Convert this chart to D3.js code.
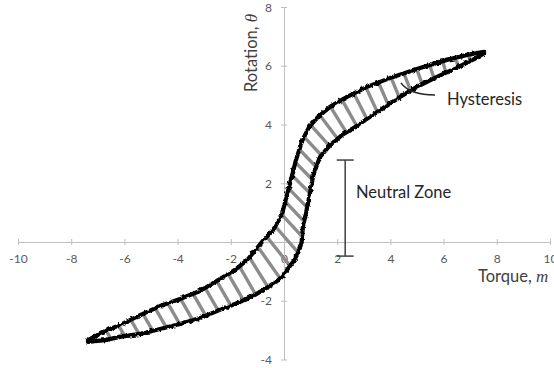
<!DOCTYPE html>
<html>
<head>
<meta charset="utf-8">
<script src="https://cdn.jsdelivr.net/npm/d3@7"></script>
<style>
  html, body { margin: 0; padding: 0; background: #fff; overflow: hidden; }
  svg { display: block; }
  text { font-family: Lato, "Open Sans", sans-serif; }
</style>
</head>
<body>
<svg id="chart" width="554" height="368"></svg>
<script>
// Axis tick values
const torqueTicks = [-10, -8, -6, -4, -2, 0, 2, 4, 6, 8, 10];
const rotationTicks = [-4, -2, 0, 2, 4, 6, 8];

// Upper-left branch of the loop (torque m, rotation θ)
const leftTorque = [-7.37, -6.73, -6.17, -5.41, -4.66, -3.91, -3.16, -2.41, -1.84, -1.35,
  -0.83, -0.41, -0.08, 0.08, 0.26, 0.45, 0.68, 0.94, 1.28, 1.73,
  2.37, 3.12, 4.10, 5.11, 6.13, 6.88, 7.52];
const leftRotation = [-3.34, -3.03, -2.83, -2.49, -2.18, -1.94, -1.67, -1.26, -0.95, -0.58,
  0.00, 0.41, 0.92, 1.50, 2.11, 2.79, 3.44, 3.91, 4.26, 4.60,
  4.94, 5.28, 5.62, 5.92, 6.20, 6.37, 6.47];

// Lower-right branch of the loop
const rightTorque = [-7.37, -6.73, -6.17, -5.41, -4.66, -3.91, -3.16, -2.41, -1.65, -1.09,
  -0.60, -0.15, 0.11, 0.34, 0.53, 0.66, 0.71, 0.85, 0.98, 1.11,
  1.35, 1.73, 2.18, 2.67, 3.23, 3.80, 4.36, 5.00, 5.75, 6.62,
  7.22, 7.52];
const rightRotation = [-3.40, -3.34, -3.23, -3.13, -2.96, -2.79, -2.59, -2.31, -2.04, -1.80,
  -1.53, -1.26, -0.95, -0.68, -0.37, -0.03, 0.51, 1.09, 1.67, 2.31,
  2.89, 3.30, 3.64, 3.91, 4.26, 4.60, 4.94, 5.28, 5.62, 5.99,
  6.26, 6.43];

// Neutral zone bracket: torque position and rotation span
const neutralTorque = 2.3;
const neutralRotation = [-0.48, 2.79];

const svg = d3.select("#chart");
const x = d3.scaleLinear().domain([-10, 10]).range([18, 550]);
const y = d3.scaleLinear().domain([-4, 8]).range([359.5, 7]);

const axisColor = "#bfbfbf";
const labelColor = "#595959";

// Horizontal axis through θ = 0
const xAxis = svg.append("g")
  .attr("transform", `translate(0,${y(0)})`)
  .call(d3.axisBottom(x).tickValues(torqueTicks).tickSize(3).tickSizeOuter(0)
    .tickFormat(d => String(d)));
xAxis.select(".domain").attr("stroke", axisColor);
xAxis.selectAll(".tick line").attr("stroke", axisColor).attr("y1", -3).attr("y2", 3);
xAxis.selectAll(".tick text")
  .attr("y", 17).attr("dy", "0.35em")
  .attr("fill", labelColor).attr("font-size", 12)
  .style("font-family", "Lato, sans-serif");

// Vertical axis through m = 0
const yAxis = svg.append("g")
  .attr("transform", `translate(${x(0)},0)`)
  .call(d3.axisLeft(y).tickValues(rotationTicks).tickSize(3).tickSizeOuter(0)
    .tickFormat(d => d === 0 ? "" : String(d)));
yAxis.select(".domain").attr("stroke", axisColor);
yAxis.selectAll(".tick line").attr("stroke", axisColor).attr("x1", -3).attr("x2", 3);
yAxis.selectAll(".tick text")
  .attr("x", -12).attr("dy", "0.35em")
  .attr("fill", labelColor).attr("font-size", 12)
  .style("font-family", "Lato, sans-serif");

// Pixel points of both branches
const ptsA = leftTorque.map((t, i) => [x(t), y(leftRotation[i])]);
const ptsB = rightTorque.map((t, i) => [x(t), y(rightRotation[i])]);

// Closed loop region used to clip the hatching
const loop = ptsA.concat(ptsB.slice().reverse());
const defs = svg.append("defs");
defs.append("clipPath").attr("id", "loopClip")
  .append("path").attr("d", "M" + loop.map(p => p.join(",")).join("L") + "Z");

// Slight roughness for the measured traces
const rough = defs.append("filter").attr("id", "rough")
  .attr("x", "-5%").attr("y", "-5%").attr("width", "110%").attr("height", "110%");
rough.append("feTurbulence").attr("type", "fractalNoise")
  .attr("baseFrequency", 0.3).attr("numOctaves", 2).attr("seed", 4).attr("result", "noise");
rough.append("feDisplacementMap").attr("in", "SourceGraphic").attr("in2", "noise")
  .attr("scale", 3.5).attr("xChannelSelector", "R").attr("yChannelSelector", "G");

// Hatch strokes: spaced along the upper-left branch, angle varying with torque
const hatchAngle = d3.scaleLinear()
  .domain([-7.5, -1.5, -0.5, 0.3, 1.0, 1.7, 3, 5, 7.5])
  .range([60, 60, 50, 45, 48, 58, 65, 70, 78])
  .clamp(true);
const cum = [0];
for (let i = 1; i < ptsA.length; i++) {
  cum.push(cum[i - 1] + Math.hypot(ptsA[i][0] - ptsA[i - 1][0], ptsA[i][1] - ptsA[i - 1][1]));
}
const total = cum[cum.length - 1];
const hatch = [];
for (let s = 7; s < total - 4; s += 13.5) {
  let k = 1;
  while (k < cum.length - 1 && cum[k] < s) k++;
  const f = (s - cum[k - 1]) / (cum[k] - cum[k - 1]);
  const px = ptsA[k - 1][0] + f * (ptsA[k][0] - ptsA[k - 1][0]);
  const py = ptsA[k - 1][1] + f * (ptsA[k][1] - ptsA[k - 1][1]);
  const a = hatchAngle(x.invert(px)) * Math.PI / 180;
  const dx = Math.cos(a), dy = Math.sin(a);
  hatch.push([px - dx * 12, py - dy * 12, px + dx * 55, py + dy * 55]);
}
svg.append("g").attr("clip-path", "url(#loopClip)")
  .selectAll("line").data(hatch).join("line")
  .attr("x1", d => d[0]).attr("y1", d => d[1])
  .attr("x2", d => d[2]).attr("y2", d => d[3])
  .attr("stroke", "#8c8c8c").attr("stroke-width", 3.4);

// Loop traces
const line = d3.line().x(d => d[0]).y(d => d[1]).curve(d3.curveLinear);
const traces = svg.append("g").attr("filter", "url(#rough)");
[ptsA, ptsB].forEach(pts => {
  traces.append("path").attr("d", line(pts))
    .attr("fill", "none").attr("stroke", "#000")
    .attr("stroke-width", 4.2).attr("stroke-linejoin", "round").attr("stroke-linecap", "round");
});

// Neutral zone bracket
const nz = svg.append("g").attr("stroke", "#404040").attr("stroke-width", 1.5);
nz.append("line").attr("x1", x(neutralTorque)).attr("x2", x(neutralTorque))
  .attr("y1", y(neutralRotation[0])).attr("y2", y(neutralRotation[1]));
neutralRotation.forEach(v => {
  nz.append("line").attr("x1", x(neutralTorque) - 8.5).attr("x2", x(neutralTorque) + 8.5)
    .attr("y1", y(v)).attr("y2", y(v));
});
svg.append("text").attr("x", 356).attr("y", 198)
  .attr("font-size", 16.5).attr("fill", "#262626").text("Neutral Zone");

// Hysteresis callout
svg.append("path").attr("d", "M401,83 Q410,95 435,95")
  .attr("fill", "none").attr("stroke", "#262626").attr("stroke-width", 1.3);
svg.append("text").attr("x", 447).attr("y", 105)
  .attr("font-size", 16.5).attr("fill", "#262626").text("Hysteresis");

// Axis titles
const xt = svg.append("text").attr("x", 478).attr("y", 282)
  .attr("font-size", 16.5).attr("fill", "#404040");
xt.append("tspan").text("Torque, ");
xt.append("tspan").attr("font-style", "italic")
  .style("font-family", "'Liberation Serif', serif").attr("font-size", 17).text("m");

const yt = svg.append("text")
  .attr("transform", "translate(257,53) rotate(-90)")
  .attr("text-anchor", "middle")
  .attr("font-size", 16.5).attr("fill", "#404040");
yt.append("tspan").text("Rotation, ");
yt.append("tspan").attr("font-style", "italic")
  .style("font-family", "'Liberation Serif', serif").attr("font-size", 17).text("θ");
</script>
</body>
</html>
